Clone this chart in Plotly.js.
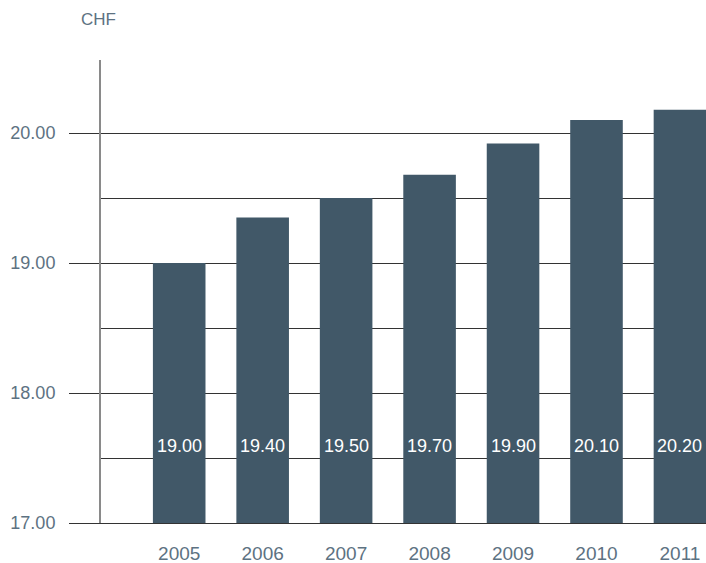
<!DOCTYPE html>
<html>
<head>
<meta charset="utf-8">
<script src="https://cdn.plot.ly/plotly-3.0.1.min.js"></script>
<style>html,body{margin:0;padding:0;background:#fff;}#chart{width:706px;height:563px;}</style>
</head>
<body>
<div id="chart"></div>
<script>
var years = ['2005', '2006', '2007', '2008', '2009', '2010', '2011'];
var values = [19.00, 19.35, 19.50, 19.68, 19.92, 20.10, 20.18];
var valueLabels = ['19.00', '19.40', '19.50', '19.70', '19.90', '20.10', '20.20'];
var yTickVals = [17, 18, 19, 20];
var yTickText = ['17.00', '18.00', '19.00', '20.00'];
var yMinorVals = [17.5, 18.5, 19.5];
var unitLabel = 'CHF';

var barColor = '#415868';
var textColor = '#5d7282';
var fontFam = 'Liberation Sans, Arial, sans-serif';

var annotations = years.map(function (y, i) {
  return {
    x: i, y: 17.595, xref: 'x', yref: 'y',
    text: valueLabels[i], showarrow: false,
    font: {family: fontFam, size: 18, color: '#ffffff'},
    xanchor: 'center', yanchor: 'middle'
  };
});
annotations.push({
  x: -0.037, y: 1.087, xref: 'paper', yref: 'paper',
  text: unitLabel, showarrow: false,
  font: {family: fontFam, size: 17, color: textColor},
  xanchor: 'left', yanchor: 'middle'
});

var data = [{
  type: 'bar',
  x: years,
  y: values,
  width: 0.63,
  marker: {color: barColor, line: {width: 0}},
  hoverinfo: 'none'
}];

var layout = {
  width: 706, height: 563,
  margin: {l: 101, r: 0, t: 60, b: 40, pad: 0},
  paper_bgcolor: '#ffffff', plot_bgcolor: '#ffffff',
  showlegend: false,
  font: {family: fontFam, color: textColor},
  xaxis: {
    type: 'category',
    range: [-0.937, 6.312],
    showgrid: false, zeroline: false,
    showline: true, linecolor: '#333333', linewidth: 1,
    ticks: '',
    tickfont: {family: fontFam, size: 19, color: textColor},
    ticklabelstandoff: 13
  },
  yaxis: {
    range: [17, 20.562],
    tickvals: yTickVals, ticktext: yTickText,
    showgrid: true, gridcolor: '#333333', gridwidth: 1,
    zeroline: false,
    showline: true, linecolor: '#8a8a8a', linewidth: 2,
    ticks: 'outside', ticklen: 30, tickcolor: '#333333', tickwidth: 1,
    tickfont: {family: fontFam, size: 18, color: textColor},
    ticklabelstandoff: 10,
    minor: {tickvals: yMinorVals, showgrid: true, gridcolor: '#333333', gridwidth: 1, ticks: ''}
  },
  annotations: annotations
};

Plotly.newPlot('chart', data, layout, {displayModeBar: false, staticPlot: true});
</script>
</body>
</html>
